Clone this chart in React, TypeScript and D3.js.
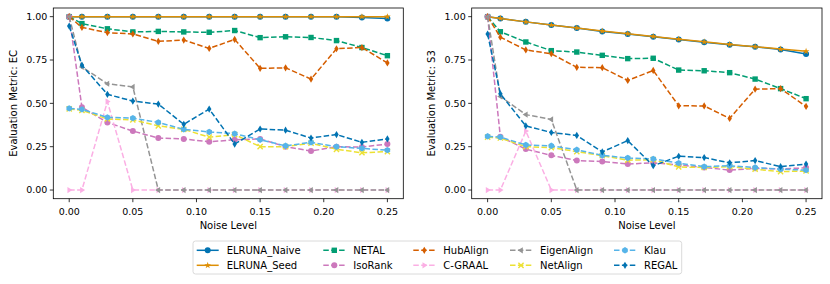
import React from 'react'
import * as d3 from 'd3'

const noise = [0, 0.01, 0.03, 0.05, 0.07, 0.09, 0.11, 0.13, 0.15, 0.17, 0.19, 0.21, 0.23, 0.25]
const yTicks = [0, 0.25, 0.5, 0.75, 1]
const xTicks = [0, 0.05, 0.1, 0.15, 0.2, 0.25]

// EC panel
const naiveEC = [1, 1, 1, 1, 1, 1, 1, 1, 1, 1, 1, 1, 0.995, 0.99]
const seedEC = [1, 1, 1, 1, 1, 1, 1, 1, 1, 1, 1, 1, 1, 1]
const netalEC = [1, 0.96, 0.93, 0.912, 0.915, 0.912, 0.91, 0.92, 0.879, 0.884, 0.88, 0.862, 0.822, 0.775]
const isorankEC = [1, 0.477, 0.39, 0.34, 0.3, 0.295, 0.278, 0.29, 0.295, 0.25, 0.225, 0.25, 0.248, 0.265]
const hubalignEC = [1, 0.938, 0.908, 0.9, 0.858, 0.865, 0.817, 0.869, 0.702, 0.705, 0.64, 0.815, 0.822, 0.733]
const cgraalEC = [0, 0, 0.51, 0, 0, 0, 0, 0, 0, 0, 0, 0, 0, 0]
const eigenEC = [1, 0.71, 0.613, 0.595, 0, 0, 0, 0, 0, 0, 0, 0, 0, 0]
const netalignEC = [0.468, 0.46, 0.41, 0.405, 0.37, 0.35, 0.305, 0.32, 0.25, 0.25, 0.27, 0.235, 0.215, 0.222]
const klauEC = [0.471, 0.465, 0.419, 0.415, 0.39, 0.35, 0.335, 0.325, 0.29, 0.255, 0.275, 0.25, 0.24, 0.23]
const regalEC = [0.946, 0.72, 0.552, 0.513, 0.496, 0.379, 0.467, 0.265, 0.352, 0.345, 0.3, 0.32, 0.275, 0.295]

// S3 panel
const naiveS3 = [1, 0.99, 0.97, 0.952, 0.935, 0.915, 0.9, 0.884, 0.868, 0.853, 0.838, 0.826, 0.81, 0.785]
const seedS3 = [1, 0.99, 0.97, 0.952, 0.935, 0.917, 0.902, 0.886, 0.87, 0.855, 0.84, 0.827, 0.813, 0.8]
const netalS3 = [1, 0.913, 0.854, 0.804, 0.796, 0.777, 0.758, 0.76, 0.692, 0.688, 0.677, 0.64, 0.585, 0.527]
const isorankS3 = [1, 0.307, 0.236, 0.2, 0.17, 0.165, 0.15, 0.157, 0.145, 0.13, 0.115, 0.125, 0.122, 0.128]
const hubalignS3 = [1, 0.882, 0.808, 0.786, 0.708, 0.706, 0.632, 0.69, 0.486, 0.485, 0.413, 0.582, 0.585, 0.482]
const cgraalS3 = [0, 0, 0.34, 0, 0, 0, 0, 0, 0, 0, 0, 0, 0, 0]
const eigenS3 = [1, 0.54, 0.435, 0.407, 0, 0, 0, 0, 0, 0, 0, 0, 0, 0]
const netalignS3 = [0.305, 0.3, 0.25, 0.245, 0.222, 0.198, 0.172, 0.175, 0.133, 0.13, 0.135, 0.12, 0.106, 0.11]
const klauS3 = [0.31, 0.305, 0.26, 0.255, 0.232, 0.2, 0.185, 0.18, 0.155, 0.135, 0.14, 0.13, 0.12, 0.115]
const regalS3 = [0.9, 0.555, 0.37, 0.332, 0.315, 0.22, 0.285, 0.14, 0.195, 0.187, 0.157, 0.17, 0.135, 0.15]

const methods = ['ELRUNA_Naive', 'ELRUNA_Seed', 'NETAL', 'IsoRank', 'HubAlign', 'C-GRAAL', 'EigenAlign', 'NetAlign', 'Klau', 'REGAL']
const colors = ['#0173b2', '#de8f05', '#029e73', '#cc78bc', '#d55e00', '#fbafe4', '#949494', '#ece133', '#56b4e9', '#0173b2']
const markers = ['circle', 'star', 'square', 'circle', 'thindiamond', 'triright', 'trileft', 'x', 'hexagon', 'thindiamond']
const dashed = [false, false, true, true, true, true, true, true, true, true]

const ecSeries = [naiveEC, seedEC, netalEC, isorankEC, hubalignEC, cgraalEC, eigenEC, netalignEC, klauEC, regalEC]
const s3Series = [naiveS3, seedS3, netalS3, isorankS3, hubalignS3, cgraalS3, eigenS3, netalignS3, klauS3, regalS3]

const font = '"DejaVu Sans", sans-serif'
const top = 8
const bottom = 198.7

function Marker({ kind, x, y, color }: { kind: string, x: number, y: number, color: string }) {
    const r = 3
    if (kind === 'circle') return <circle cx={x} cy={y} r={r} fill={color} />
    if (kind === 'square') return <rect x={x - 2.7} y={y - 2.7} width={5.4} height={5.4} fill={color} />
    if (kind === 'star') {
        const p = d3.symbol().type(d3.symbolStar).size(14)()
        return <path d={p} transform={`translate(${x},${y})`} fill={color} />
    }
    if (kind === 'thindiamond') {
        const d = `M0,-3.6L2.2,0L0,3.6L-2.2,0Z`
        return <path d={d} transform={`translate(${x},${y})`} fill={color} />
    }
    if (kind === 'triright') return <path d="M3.2,0L-1.8,-3.1L-1.8,3.1Z" transform={`translate(${x},${y})`} fill={color} />
    if (kind === 'trileft') return <path d="M-3.2,0L1.8,-3.1L1.8,3.1Z" transform={`translate(${x},${y})`} fill={color} />
    if (kind === 'x') return <path d="M-2.6,-2.6L2.6,2.6M-2.6,2.6L2.6,-2.6" transform={`translate(${x},${y})`} stroke={color} strokeWidth={1.4} fill="none" />
    if (kind === 'hexagon') {
        const pts = d3.range(6).map(i => {
            const a = Math.PI / 2 + i * Math.PI / 3
            return [3.2 * Math.cos(a), 3.2 * Math.sin(a)]
        })
        return <path d={d3.line()(pts as [number, number][]) + 'Z'} transform={`translate(${x},${y})`} fill={color} />
    }
    return null
}

function Panel({ left, right, data, label }: { left: number, right: number, data: number[][], label: string }) {
    const x = d3.scaleLinear().domain([-0.0125, 0.2625]).range([left, right])
    const y = d3.scaleLinear().domain([-0.05, 1.05]).range([bottom, top])
    const line = d3.line<number>().x((_, i) => x(noise[i])).y(d => y(d))
    return (
        <g>
            {data.map((vals, k) => (
                <g key={methods[k]}>
                    <path d={line(vals) as string} fill="none" stroke={colors[k]} strokeWidth={1.5}
                        strokeDasharray={dashed[k] ? '5.5,2.4' : undefined} />
                    {vals.map((v, i) => <Marker key={i} kind={markers[k]} x={x(noise[i])} y={y(v)} color={colors[k]} />)}
                </g>
            ))}
            <rect x={left} y={top} width={right - left} height={bottom - top} fill="none" stroke="#000" strokeWidth={0.8} />
            {yTicks.map(t => (
                <g key={t}>
                    <line x1={left - 3.5} x2={left} y1={y(t)} y2={y(t)} stroke="#000" strokeWidth={0.8} />
                    <text x={left - 6} y={y(t)} dy="0.35em" textAnchor="end" fontSize={9.5} fontFamily={font}>{d3.format('.2f')(t)}</text>
                </g>
            ))}
            {xTicks.map(t => (
                <g key={t}>
                    <line x1={x(t)} x2={x(t)} y1={bottom} y2={bottom + 3.5} stroke="#000" strokeWidth={0.8} />
                    <text x={x(t)} y={bottom + 16.5} textAnchor="middle" fontSize={9.5} fontFamily={font}>{d3.format('.2f')(t)}</text>
                </g>
            ))}
            <text x={(left + right) / 2} y={228.5} textAnchor="middle" fontSize={10} fontFamily={font}>Noise Level</text>
            <text transform={`translate(${left - 40},${(top + bottom) / 2}) rotate(-90)`} textAnchor="middle" dy="0.35em"
                fontSize={10} fontFamily={font}>{label}</text>
        </g>
    )
}

function Legend() {
    const colX = [196.7, 323.3, 413.3, 510, 614]
    const rowY = [250.3, 265.3]
    return (
        <g>
            <rect x={193} y={241} width={488.7} height={33} rx={2.5} fill="#fff" stroke="#d0d0d0" strokeWidth={0.8} />
            {methods.map((m, k) => {
                const cx = colX[Math.floor(k / 2)]
                const cy = rowY[k % 2]
                return (
                    <g key={m}>
                        <line x1={cx} x2={cx + 22} y1={cy} y2={cy} stroke={colors[k]} strokeWidth={1.5}
                            strokeDasharray={dashed[k] ? '5.5,2.4' : undefined} />
                        <Marker kind={markers[k]} x={cx + 11} y={cy} color={colors[k]} />
                        <text x={cx + 30} y={cy} dy="0.35em" fontSize={10} fontFamily={font}>{m}</text>
                    </g>
                )
            })}
        </g>
    )
}

export default function App() {
    return (
        <svg width={830} height={284} style={{ position: 'absolute', left: 0, top: 0, background: '#fff' }}>
            <Panel left={53.3} right={403.3} data={ecSeries} label="Evaluation Metric: EC" />
            <Panel left={471.7} right={822} data={s3Series} label="Evaluation Metric: S3" />
            <Legend />
        </svg>
    )
}
